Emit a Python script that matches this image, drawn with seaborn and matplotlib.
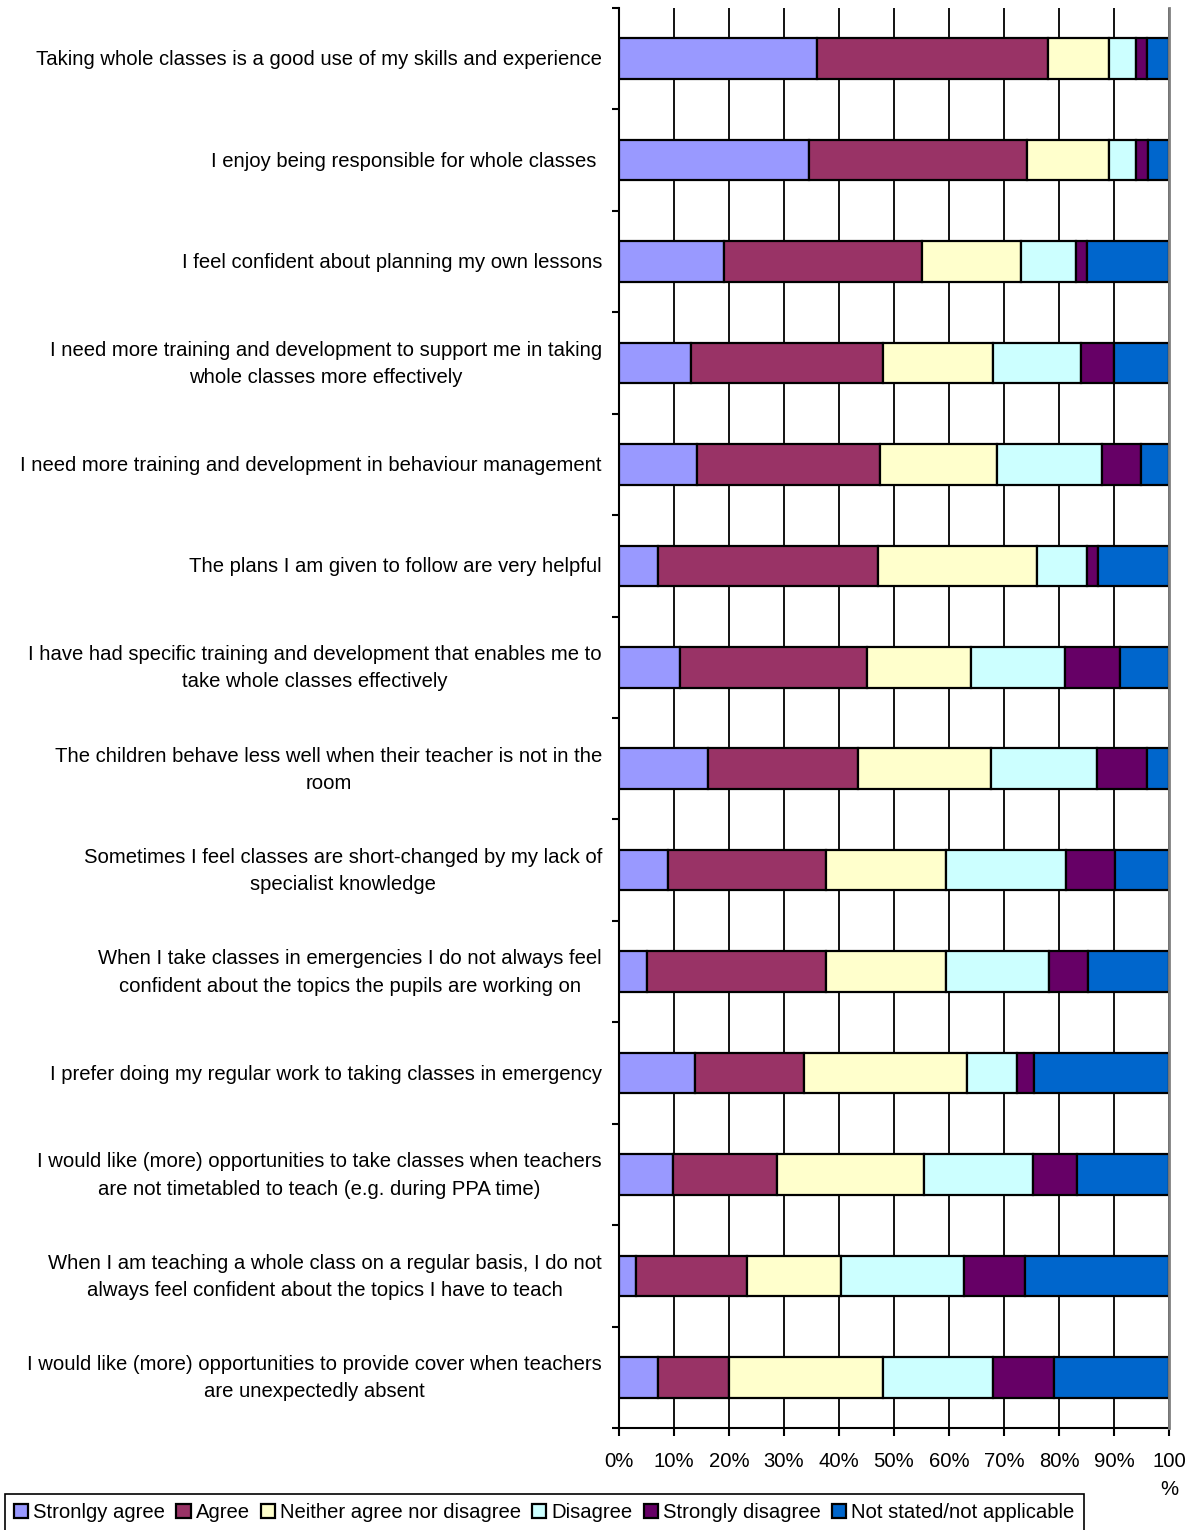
import numpy as np
import pandas as pd
import matplotlib
matplotlib.use("Agg")
import matplotlib.pyplot as plt
import matplotlib.transforms as mtransforms
import seaborn as sns
from matplotlib.ticker import FixedLocator

questions = [
    "Taking whole classes is a good use of my skills and experience",
    "I enjoy being responsible for whole classes ",
    "I feel confident about planning my own lessons",
    "I need more training and development to support me in taking\nwhole classes more effectively",
    "I need more training and development in behaviour management",
    "The plans I am given to follow are very helpful",
    "I have had specific training and development that enables me to\ntake whole classes effectively",
    "The children behave less well when their teacher is not in the\nroom",
    "Sometimes I feel classes are short-changed by my lack of\nspecialist knowledge",
    "When I take classes in emergencies I do not always feel\nconfident about the topics the pupils are working on",
    "I prefer doing my regular work to taking classes in emergency",
    "I would like (more) opportunities to take classes when teachers\nare not timetabled to teach (e.g. during PPA time)",
    "When I am teaching a whole class on a regular basis, I do not\nalways feel confident about the topics I have to teach",
    "I would like (more) opportunities to provide cover when teachers\nare unexpectedly absent",
]

responses = ["Stronlgy agree", "Agree", "Neither agree nor disagree",
             "Disagree", "Strongly disagree", "Not stated/not applicable"]

strongly_agree = [36, 34.6, 19, 13, 14.1, 7, 11, 16.2, 8.9, 5.0, 13.8, 9.8, 3.0, 7]
agree = [42, 39.6, 36, 35, 33.3, 40, 34, 27.3, 28.7, 32.6, 19.9, 18.9, 20.3, 13]
neither = [11, 14.9, 18, 20, 21.3, 29, 19, 24.2, 21.8, 21.8, 29.6, 26.7, 17.1, 28]
disagree = [5, 4.9, 10, 16, 19.2, 9, 17, 19.2, 21.8, 18.8, 9.1, 19.9, 22.3, 20]
strongly_disagree = [2, 2.1, 2, 6, 7.0, 2, 10, 9.1, 9.0, 7.0, 3.0, 7.9, 11.2, 11]
not_stated = [4, 3.9, 15, 10, 5.1, 13, 9, 4.0, 9.8, 14.8, 24.6, 16.8, 26.1, 21]

x_tick_values = list(range(0, 101, 10))
x_tick_labels = ["0%", "10%", "20%", "30%", "40%", "50%", "60%", "70%", "80%", "90%", "100\n%"]

colors = ["#9999FF", "#993366", "#FFFFCC", "#CCFFFF", "#660066", "#0066CC"]

sns.set_style("white")
plt.rcParams["font.family"] = ["Liberation Sans", "DejaVu Sans"]
plt.rcParams["text.color"] = "black"
plt.rcParams["xtick.color"] = "black"
plt.rcParams["ytick.color"] = "black"
plt.rcParams["axes.labelcolor"] = "black"
FS = 14.6
LS = 1.55

fig = plt.figure(figsize=(12.01, 15.30), dpi=100)
ax = fig.add_axes([619 / 1201, 102 / 1530, 550 / 1201, 1420 / 1530])

series = [strongly_agree, agree, neither, disagree, strongly_disagree, not_stated]
df = pd.DataFrame({"question": questions})
left = np.zeros(len(questions))
for name, vals, col in zip(responses, series, colors):
    df["value"] = vals
    sns.barplot(data=df, x="value", y="question", order=questions, orient="h",
                color=col, saturation=1, width=0.4, errorbar=None,
                left=left.copy(), edgecolor="black", linewidth=1.6,
                label=name, ax=ax, zorder=3)
    left = left + np.array(vals, dtype=float)

handles, labels = ax.get_legend_handles_labels()
if ax.get_legend() is not None:
    ax.get_legend().remove()

ax.set_xlim(0, 100)
ax.set_ylim(len(questions) - 0.5, -0.5)
ax.set_xlabel("")
ax.set_ylabel("")

ax.set_xticks(x_tick_values)
ax.set_xticklabels(x_tick_labels, fontsize=FS, linespacing=1.6, va="top", color="black")
ax.set_yticks(range(len(questions)))
ax.set_yticklabels([""] * len(questions))
ax.yaxis.set_minor_locator(FixedLocator(np.arange(-0.5, len(questions), 1.0)))

# category labels: right-aligned block with centred lines
ytrans = mtransforms.blended_transform_factory(ax.transAxes, ax.transData)
for i, q in enumerate(questions):
    ax.text(-17 / 550, i + 0.01, q, transform=ytrans, ha="right", va="center",
            multialignment="center", linespacing=LS, fontsize=FS, color="black")

ax.tick_params(axis="y", which="major", length=0)
ax.tick_params(axis="y", which="minor", left=True, length=5, width=1.5, color="black", direction="out")
ax.tick_params(axis="x", which="major", bottom=True, length=6, width=1.5, color="black",
               direction="out", pad=11)

ax.set_axisbelow(True)
ax.xaxis.grid(True, color="black", linewidth=1.3)
ax.yaxis.grid(False)

for s in ["left", "bottom"]:
    ax.spines[s].set_color("black")
    ax.spines[s].set_linewidth(1.5)
ax.spines["top"].set_visible(False)
ax.spines["right"].set_color("#808080")
ax.spines["right"].set_linewidth(2)
ax.spines["right"].set_zorder(10)

leg = fig.legend(handles, labels, loc="upper left",
                 bbox_to_anchor=(5 / 1201, 1 - 1494 / 1530), ncol=6,
                 frameon=True, fancybox=False, edgecolor="black", framealpha=1,
                 handlelength=0.7, handleheight=0.7, handletextpad=0.25,
                 columnspacing=0.55, borderpad=0.45, borderaxespad=0, fontsize=FS)
leg.get_frame().set_linewidth(1.2)
for t in leg.get_texts():
    t.set_color("black")

fig.savefig("out.png", dpi=100)
